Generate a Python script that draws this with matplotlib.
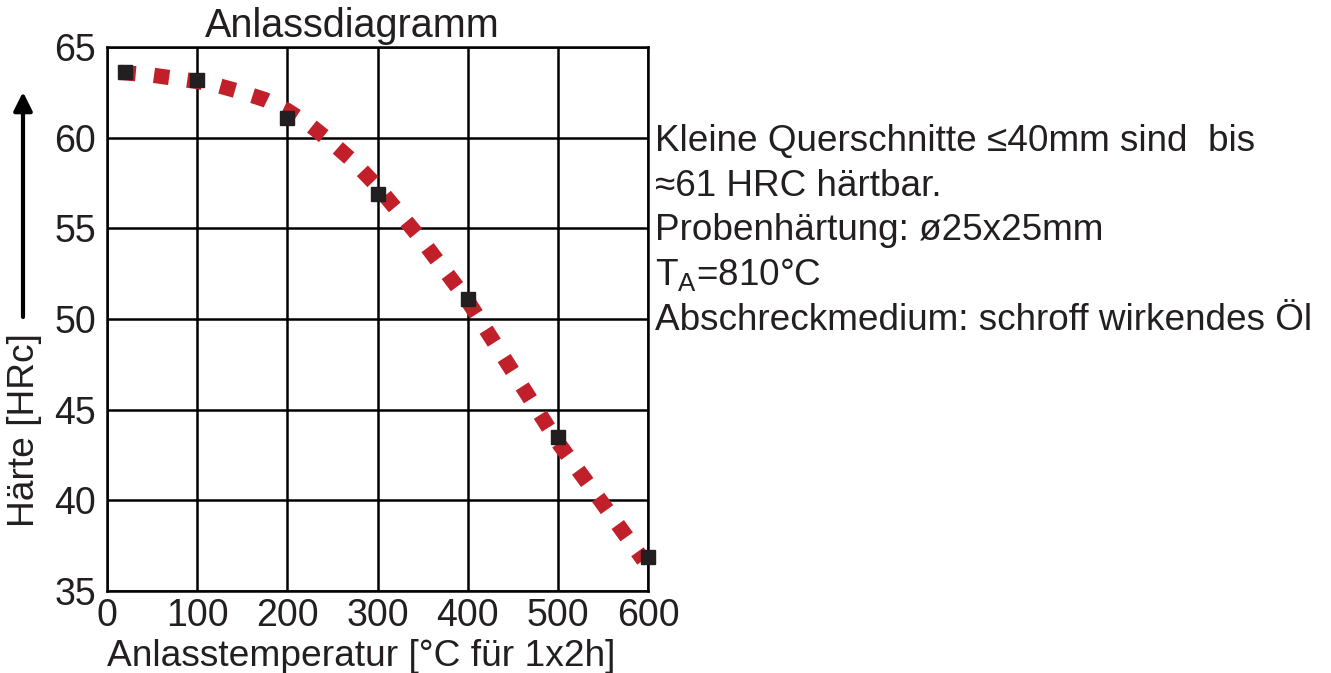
import numpy as np
import matplotlib.pyplot as plt

plt.rcParams['font.family'] = ['Liberation Sans', 'DejaVu Sans']
plt.rcParams['mathtext.fontset'] = 'custom'
plt.rcParams['mathtext.rm'] = 'Liberation Sans'

# Messpunkte
temp = [20, 100, 200, 300, 400, 500, 600]
haerte = [63.6, 63.2, 61.1, 56.9, 51.1, 43.5, 36.9]

# Trendkurve
trend_x = [15, 50, 100, 125, 150, 175, 200, 225, 250, 275, 300, 350, 400, 450, 500, 550, 595]
trend_y = [63.6, 63.45, 63.1, 62.85, 62.5, 62.1, 61.5, 60.7, 59.7, 58.6, 57.3, 54.3, 51.0, 47.1, 43.2, 39.8, 36.7]

xticks = [0, 100, 200, 300, 400, 500, 600]
yticks = [35, 40, 45, 50, 55, 60, 65]

info = ["Kleine Querschnitte \u226440mm sind  bis",
        "\u224861 HRC h\u00e4rtbar.",
        "Probenh\u00e4rtung: \u00f825x25mm",
        "T$_\\mathrm{A}$=810\u00b0C",
        "Abschreckmedium: schroff wirkendes \u00d6l"]

txt = '#231f20'
W, H = 1331, 673
fig = plt.figure(figsize=(W / 100, H / 100), dpi=100)
ax = fig.add_axes([107 / W, 1 - 591 / H, (648 - 107) / W, (591 - 47) / H])

ax.plot(trend_x, trend_y, color='#c1202a', lw=11, linestyle=(0, (1, 1.2)), zorder=3)
ax.plot(temp, haerte, 's', color=txt, markersize=10, zorder=4, clip_on=False)

ax.set_xlim(0, 600)
ax.set_ylim(35, 65)
ax.set_xticks(xticks)
ax.set_yticks(yticks)
ax.grid(True, color='black', lw=1.8)
for s in ax.spines.values():
    s.set_linewidth(1.8)
    s.set_color('black')
ax.tick_params(length=0, labelsize=27, labelcolor=txt)
ax.tick_params(axis='y', pad=8)
ax.tick_params(axis='x', pad=5)

fig.text(352 / W, 1 - 26 / H, 'Anlassdiagramm', fontsize=28.5, color=txt, ha='center', va='center')
fig.text(361 / W, 1 - 656 / H, 'Anlasstemperatur [\u00b0C f\u00fcr 1x2h]', fontsize=26.7, color=txt,
         ha='center', va='center')
fig.text(25 / W, 1 - 430 / H, 'H\u00e4rte [HRc]', fontsize=26.7, color=txt, rotation=90,
         ha='center', va='center')
fig.add_artist(plt.Annotation('', xy=(23, H - 92), xytext=(23, H - 317),
                              xycoords='figure pixels', textcoords='figure pixels',
                              arrowprops=dict(arrowstyle='-|>', lw=3, color='black',
                                              mutation_scale=28, shrinkA=0, shrinkB=0)))

for i, line in enumerate(info):
    fig.text(655 / W, 1 - (142 + 44.5 * i) / H, line, fontsize=26.6, color=txt,
             ha='left', va='center')

fig.savefig('out.png', dpi=100)
